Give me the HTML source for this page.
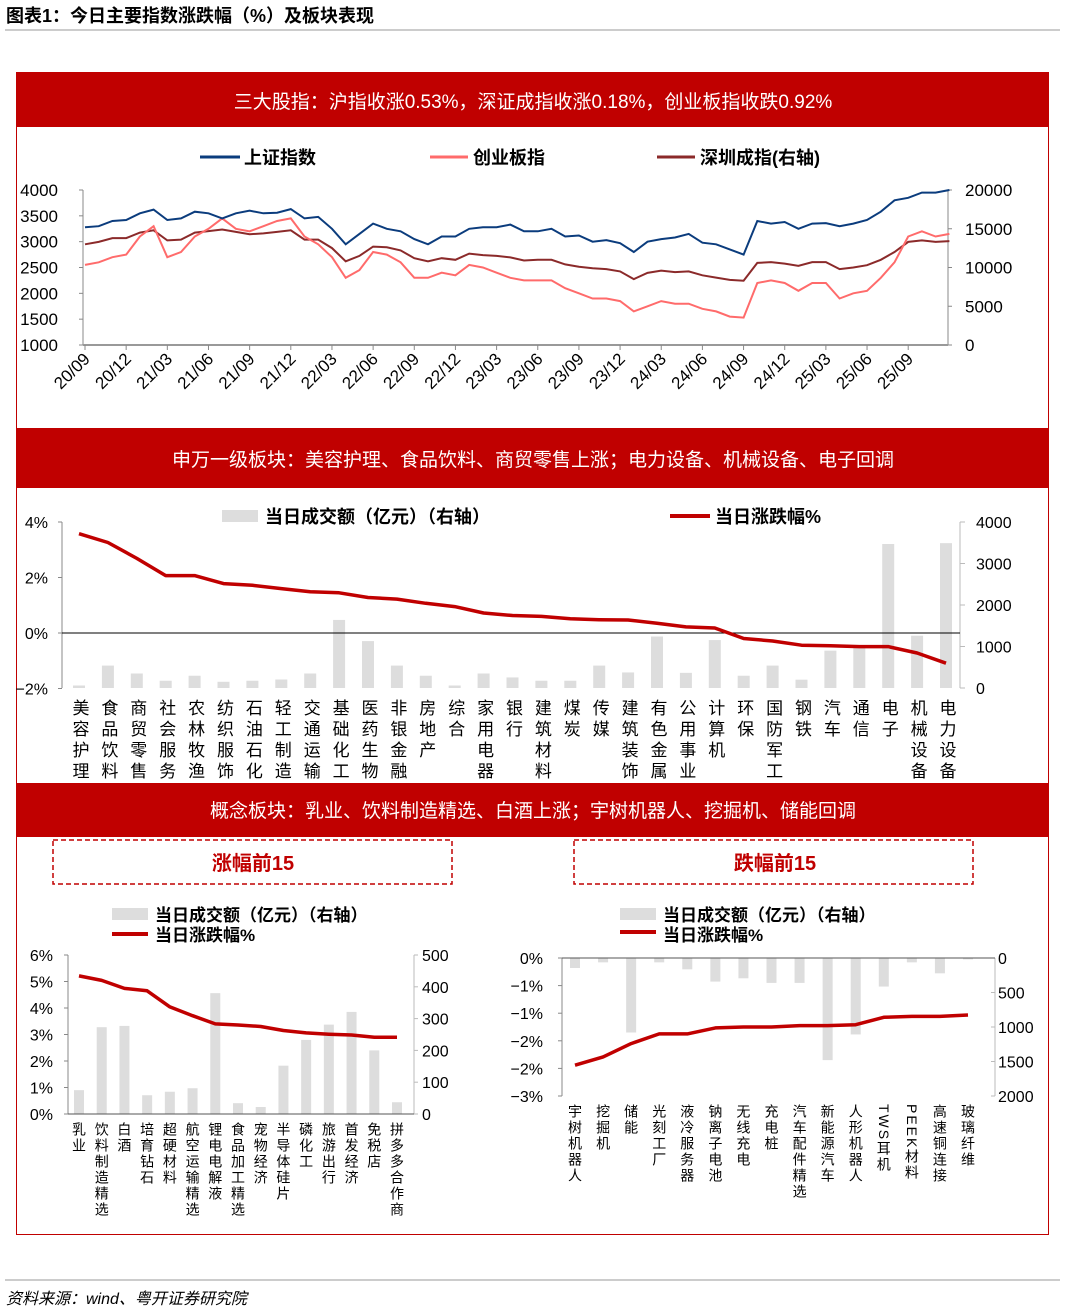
<!DOCTYPE html>
<html><head><meta charset="utf-8">
<style>
html,body{margin:0;padding:0;background:#fff;}
body{width:1065px;height:1312px;position:relative;overflow:hidden;font-family:"Liberation Sans","Noto Sans CJK SC",sans-serif;}
svg{position:absolute;left:0;top:0;}
text{font-family:"Liberation Sans","Noto Sans CJK SC",sans-serif;}
.vl{position:absolute;writing-mode:vertical-rl;font-family:"Liberation Sans","Noto Sans CJK SC",sans-serif;color:#000;white-space:nowrap;transform:translateX(-50%);}
</style></head>
<body>
<svg id="s" width="1065" height="1312" viewBox="0 0 1065 1312">
  <text x="6" y="22" font-size="18" font-weight="bold">图表1：今日主要指数涨跌幅（%）及板块表现</text>
  <line x1="5" y1="30" x2="1060" y2="30" stroke="#999" stroke-width="1"/>
  <rect x="16.5" y="72.5" width="1032" height="1162" fill="none" stroke="#C00000" stroke-width="1"/>
  <rect x="16" y="72" width="1033" height="55" fill="#C00000"/>
  <text x="533" y="108" font-size="19" fill="#fff" text-anchor="middle">三大股指：沪指收涨0.53%，深证成指收涨0.18%，创业板指收跌0.92%</text>
  <rect x="16" y="428" width="1033" height="60" fill="#C00000"/>
  <text x="533" y="466" font-size="19" fill="#fff" text-anchor="middle">申万一级板块：美容护理、食品饮料、商贸零售上涨；电力设备、机械设备、电子回调</text>
  <rect x="16" y="783" width="1033" height="54" fill="#C00000"/>
  <text x="533" y="817" font-size="19" fill="#fff" text-anchor="middle">概念板块：乳业、饮料制造精选、白酒上涨；宇树机器人、挖掘机、储能回调</text>
  <line x1="5" y1="1280" x2="1060" y2="1280" stroke="#999" stroke-width="1"/>
  <text x="6" y="1304" font-size="16" font-style="italic">资料来源：wind、粤开证券研究院</text>

  <line x1="200" y1="157" x2="240" y2="157" stroke="#0B3C7D" stroke-width="3"/>
  <text x="244" y="164" font-size="18" font-weight="bold">上证指数</text>
  <line x1="430" y1="157" x2="468" y2="157" stroke="#FF6B6B" stroke-width="3"/>
  <text x="473" y="164" font-size="18" font-weight="bold">创业板指</text>
  <line x1="657" y1="157" x2="695" y2="157" stroke="#8B2A2A" stroke-width="3"/>
  <text x="700" y="164" font-size="18" font-weight="bold">深圳成指(右轴)</text>

  <rect x="222" y="510" width="36" height="12" fill="#DDDDDD"/>
  <text x="265" y="523" font-size="18" font-weight="bold">当日成交额（亿元）（右轴）</text>
  <line x1="670" y1="516" x2="710" y2="516" stroke="#C00000" stroke-width="4"/>
  <text x="715" y="523" font-size="18" font-weight="bold">当日涨跌幅%</text>

  <rect x="53" y="840" width="399" height="44" fill="none" stroke="#C00000" stroke-width="1.5" stroke-dasharray="5,3"/>
  <text x="253" y="870" font-size="20" font-weight="bold" fill="#C00000" text-anchor="middle">涨幅前15</text>
  <rect x="574" y="840" width="399" height="44" fill="none" stroke="#C00000" stroke-width="1.5" stroke-dasharray="5,3"/>
  <text x="775" y="870" font-size="20" font-weight="bold" fill="#C00000" text-anchor="middle">跌幅前15</text>

  <rect x="112" y="908" width="36" height="12" fill="#DDDDDD"/>
  <text x="155" y="921" font-size="17" font-weight="bold">当日成交额（亿元）（右轴）</text>
  <line x1="112" y1="934" x2="148" y2="934" stroke="#C00000" stroke-width="4"/>
  <text x="155" y="941" font-size="17" font-weight="bold">当日涨跌幅%</text>
  <rect x="620" y="908" width="36" height="12" fill="#DDDDDD"/>
  <text x="663" y="921" font-size="17" font-weight="bold">当日成交额（亿元）（右轴）</text>
  <line x1="620" y1="932" x2="656" y2="932" stroke="#C00000" stroke-width="4"/>
  <text x="663" y="941" font-size="17" font-weight="bold">当日涨跌幅%</text>
  <g id="g"></g>
</svg>
<script>
const shIndex=[3280,3300,3400,3420,3550,3620,3420,3450,3580,3550,3450,3550,3600,3550,3560,3630,3450,3480,3250,2950,3150,3350,3250,3200,3050,2950,3100,3100,3250,3280,3280,3330,3200,3200,3250,3100,3120,3000,3030,2970,2800,3000,3050,3080,3150,2980,2950,2850,2750,3400,3350,3380,3250,3350,3360,3300,3350,3420,3580,3800,3850,3950,3950,4000];
const cybIndex=[2550,2600,2700,2750,3100,3300,2700,2800,3100,3250,3450,3250,3200,3300,3400,3450,3100,2950,2700,2300,2450,2800,2750,2600,2300,2300,2400,2350,2550,2500,2400,2300,2250,2250,2250,2100,2000,1900,1900,1850,1650,1750,1850,1800,1800,1700,1650,1550,1530,2200,2250,2200,2050,2200,2200,1900,2000,2050,2300,2600,3100,3200,3100,3150];
const szIndex=[13000,13300,13800,13800,14500,14800,13500,13600,14500,14700,14900,14600,14300,14400,14600,14800,13600,13600,12500,10800,11500,12700,12600,12200,11200,10800,11200,11000,11800,11600,11500,11300,10900,11000,11000,10400,10100,9900,9800,9500,8500,9300,9600,9400,9500,9000,8700,8400,8300,10600,10700,10500,10200,10700,10700,9800,10000,10300,11000,12000,13300,13500,13300,13400];
const c1XLabels=["20/09","20/12","21/03","21/06","21/09","21/12","22/03","22/06","22/09","22/12","23/03","23/06","23/09","23/12","24/03","24/06","24/09","24/12","25/03","25/06","25/09"];
const c1LeftTicks=[1000,1500,2000,2500,3000,3500,4000];
const c1RightTicks=[0,5000,10000,15000,20000];
const indNames=["美容护理","食品饮料","商贸零售","社会服务","农林牧渔","纺织服饰","石油石化","轻工制造","交通运输","基础化工","医药生物","非银金融","房地产","综合","家用电器","银行","建筑材料","煤炭","传媒","建筑装饰","有色金属","公用事业","计算机","环保","国防军工","钢铁","汽车","通信","电子","机械设备","电力设备"];
const indChange=[3.58,3.26,2.69,2.07,2.07,1.78,1.72,1.60,1.49,1.45,1.28,1.22,1.07,0.95,0.72,0.63,0.60,0.51,0.48,0.47,0.35,0.22,0.18,-0.20,-0.29,-0.44,-0.46,-0.49,-0.49,-0.72,-1.09];
const indTurnover=[60,540,350,175,295,150,175,205,350,1640,1130,540,295,60,350,255,175,175,540,375,1240,365,1155,295,540,200,900,1010,3470,1260,3490];
const c2LeftTicks=[-2,0,2,4];
const c2RightTicks=[0,1000,2000,3000,4000];
const gainNames=["乳业","饮料制造精选","白酒","培育钻石","超硬材料","航空运输精选","锂电电解液","食品加工精选","宠物经济","半导体硅片","磷化工","旅游出行","首发经济","免税店","拼多多合作商"];
const gainChange=[5.21,5.04,4.74,4.65,4.04,3.71,3.40,3.36,3.30,3.15,3.06,3.01,2.98,2.90,2.90];
const gainTurnover=[75,273,277,59,70,81,380,34,22,152,233,281,321,200,37];
const c3LeftTicks=[0,1,2,3,4,5,6];
const c3RightTicks=[0,100,200,300,400,500];
const lossNames=["宇树机器人","挖掘机","储能","光刻工厂","液冷服务器","钠离子电池","无线充电","充电桩","汽车配件精选","新能源汽车","人形机器人","TWS耳机","PEEK材料","高速铜连接","玻璃纤维"];
const lossChange=[-2.33,-2.15,-1.86,-1.65,-1.65,-1.52,-1.50,-1.50,-1.47,-1.47,-1.45,-1.29,-1.27,-1.27,-1.24];
const lossTurnover=[145,63,1080,63,164,342,294,361,361,1480,1108,414,63,222,20];
const c4LeftTicks=[0,-0.6,-1.2,-1.8,-2.4,-3];
const c4LeftLabels=["0%","-1%","-1%","-2%","-2%","-3%"];
const c4RightTicks=[0,500,1000,1500,2000];

const NS="http://www.w3.org/2000/svg";
const G=document.getElementById('g');
function mk(tag,attrs,txt){const e=document.createElementNS(NS,tag);for(const k in attrs)e.setAttribute(k,attrs[k]);if(txt!==undefined)e.textContent=txt;G.appendChild(e);return e;}
function poly(xs,ys){return xs.map((x,i)=>x.toFixed(1)+","+ys[i].toFixed(1)).join(" ");}
function vlabel(str,cx,top,fs,ls){const d=document.createElement('div');d.className='vl';d.style.left=cx+'px';d.style.top=top+'px';d.style.fontSize=fs+'px';d.style.letterSpacing=ls+'px';d.style.lineHeight=fs+'px';d.textContent=str;document.body.appendChild(d);return d;}

// Chart 1
const x1=i=>85+i*13.72;
const y1=v=>345-(v-1000)/3000*155;
const y1r=v=>345-v/20000*155;
let e;
e=mk('line',{x1:83,y1:190,x2:83,y2:345,stroke:'#888'});

e=mk('line',{x1:948,y1:190,x2:948,y2:345,stroke:'#888'});

e=mk('line',{x1:83,y1:345,x2:948,y2:345,stroke:'#999',"stroke-width":2});

c1LeftTicks.forEach(v=>{
  e=mk('text',{x:58,y:y1(v)+6,"font-size":17,"text-anchor":"end"},String(v));
  
  mk('line',{x1:79,y1:y1(v),x2:83,y2:y1(v),stroke:'#888'});
});
c1RightTicks.forEach(v=>{
  e=mk('text',{x:965,y:y1r(v)+6,"font-size":17},String(v));
  
  mk('line',{x1:948,y1:y1r(v),x2:952,y2:y1r(v),stroke:'#888'});
});
c1XLabels.forEach((t,i)=>{
  const x=x1(i*3);
  mk('line',{x1:x,y1:345,x2:x,y2:350,stroke:'#888'});
  e=mk('text',{x:x+6,y:360,"font-size":17,"text-anchor":"end",transform:`rotate(-45 ${x+6} 360)`},t);
  
});
const idx=shIndex.map((_,i)=>x1(i));
e=mk('polyline',{points:poly(idx,szIndex.map(y1r)),fill:'none',stroke:'#8B2A2A',"stroke-width":2});

e=mk('polyline',{points:poly(idx,cybIndex.map(y1)),fill:'none',stroke:'#FF6B6B',"stroke-width":2});

e=mk('polyline',{points:poly(idx,shIndex.map(y1)),fill:'none',stroke:'#0B3C7D',"stroke-width":2});


// Chart 2
const y2=p=>633-p/2*55.5;
const y2r=v=>688-v/4000*166;
e=mk('line',{x1:62,y1:522,x2:62,y2:688,stroke:'#888'});

e=mk('line',{x1:960,y1:522,x2:960,y2:688,stroke:'#bbb'});

c2LeftTicks.forEach(v=>{
  e=mk('text',{x:48,y:y2(v)+6,"font-size":16,"text-anchor":"end"},(v<0?"\u2212":"")+Math.abs(v)+"%");
  
  mk('line',{x1:58,y1:y2(v),x2:62,y2:y2(v),stroke:'#888'});
});
c2RightTicks.forEach(v=>{
  e=mk('text',{x:976,y:y2r(v)+6,"font-size":16},String(v));
  
  mk('line',{x1:960,y1:y2r(v),x2:965,y2:y2r(v),stroke:'#bbb'});
});
const n2=indNames.length;
const step2=(946-79)/(n2-1);
const X2=i=>79+i*step2;
indTurnover.forEach((v,i)=>{
  e=mk('rect',{x:X2(i)-6,y:y2r(v),width:12,height:688-y2r(v),fill:'#DDDDDD'});
  
});
e=mk('line',{x1:62,y1:633,x2:960,y2:633,stroke:'#000',"stroke-width":1});

e=mk('polyline',{points:poly(indChange.map((_,i)=>X2(i)),indChange.map(y2)),fill:'none',stroke:'#C00000',"stroke-width":3.5,"stroke-linejoin":"round"});

indNames.forEach((t,i)=>{
  const d=vlabel(t,X2(i),699,17,4);
  
  
});

// Chart 3 left
const step3=(397-79)/14;
const X3=i=>79+i*step3;
const y3=p=>1114-p*26.5;
const y3r=v=>1114-v/500*159;
e=mk('line',{x1:68,y1:955,x2:68,y2:1114,stroke:'#888'});

e=mk('line',{x1:414,y1:955,x2:414,y2:1114,stroke:'#bbb'});

c3LeftTicks.forEach(v=>{
  e=mk('text',{x:53,y:y3(v)+6,"font-size":16,"text-anchor":"end"},v+"%");
  
  mk('line',{x1:64,y1:y3(v),x2:68,y2:y3(v),stroke:'#888'});
});
c3RightTicks.forEach(v=>{
  e=mk('text',{x:422,y:y3r(v)+6,"font-size":16},String(v));
  
  mk('line',{x1:414,y1:y3r(v),x2:418,y2:y3r(v),stroke:'#bbb'});
});
gainTurnover.forEach((v,i)=>{
  e=mk('rect',{x:X3(i)-5,y:y3r(v),width:10,height:1114-y3r(v),fill:'#DDDDDD'});
  
});
e=mk('line',{x1:68,y1:1114,x2:414,y2:1114,stroke:'#555'});

e=mk('polyline',{points:poly(gainChange.map((_,i)=>X3(i)),gainChange.map(y3)),fill:'none',stroke:'#C00000',"stroke-width":3.5,"stroke-linejoin":"round"});

gainNames.forEach((t,i)=>{
  const d=vlabel(t,X3(i),1122,14,2);
  
  
});

// Chart 3 right
const step4=(968-575)/14;
const X4=i=>575+i*step4;
const y4=p=>958+(-p)/3*138;
const y4r=v=>958+v/2000*138;
e=mk('line',{x1:562,y1:958,x2:562,y2:1096,stroke:'#888'});

e=mk('line',{x1:995,y1:958,x2:995,y2:1096,stroke:'#bbb'});

c4LeftTicks.forEach((v,i)=>{
  e=mk('text',{x:543,y:y4(v)+6,"font-size":16,"text-anchor":"end"},c4LeftLabels[i].replace('-','\u2212'));
  
  mk('line',{x1:558,y1:y4(v),x2:562,y2:y4(v),stroke:'#888'});
});
c4RightTicks.forEach(v=>{
  e=mk('text',{x:998,y:y4r(v)+6,"font-size":16},String(v));
  
  mk('line',{x1:991,y1:y4r(v),x2:995,y2:y4r(v),stroke:'#bbb'});
});
lossTurnover.forEach((v,i)=>{
  e=mk('rect',{x:X4(i)-5,y:958,width:10,height:y4r(v)-958,fill:'#DDDDDD'});
  
});
e=mk('line',{x1:562,y1:958,x2:995,y2:958,stroke:'#555'});

e=mk('polyline',{points:poly(lossChange.map((_,i)=>X4(i)),lossChange.map(y4)),fill:'none',stroke:'#C00000',"stroke-width":3.5,"stroke-linejoin":"round"});

lossNames.forEach((t,i)=>{
  const d=vlabel(t,X4(i),1104,14,2);
  
  
});
</script>
</body></html>
